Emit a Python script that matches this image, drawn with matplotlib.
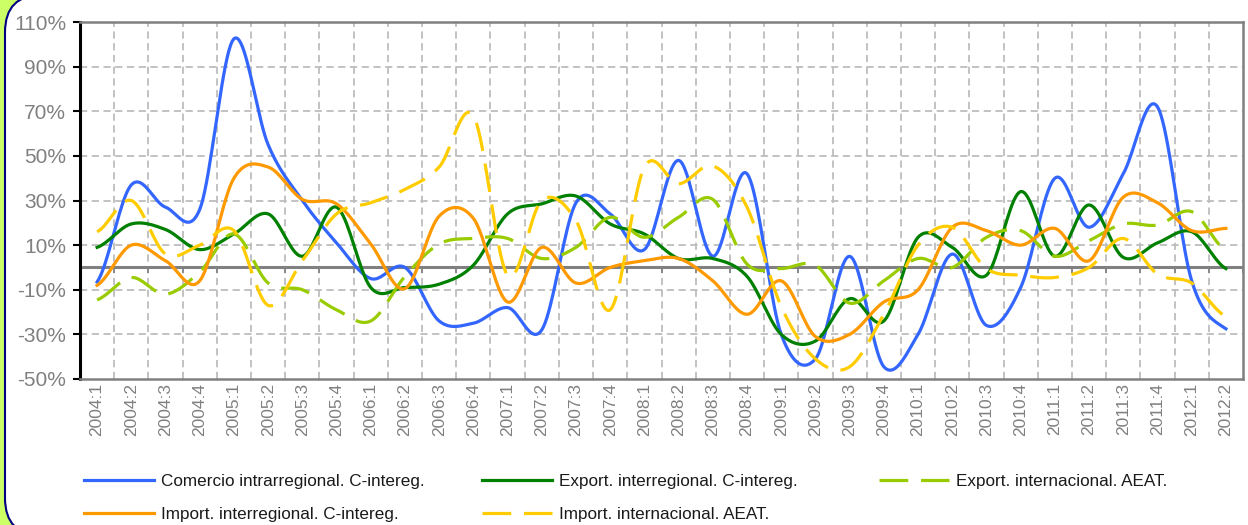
import numpy as np
import matplotlib
matplotlib.use("Agg")
from matplotlib import pyplot as plt
from matplotlib.patches import FancyBboxPatch

plt.rcParams['font.family'] = ['Liberation Sans', 'DejaVu Sans']

quarters = ["2004:1", "2004:2", "2004:3", "2004:4", "2005:1", "2005:2", "2005:3", "2005:4",
            "2006:1", "2006:2", "2006:3", "2006:4", "2007:1", "2007:2", "2007:3", "2007:4",
            "2008:1", "2008:2", "2008:3", "2008:4", "2009:1", "2009:2", "2009:3", "2009:4",
            "2010:1", "2010:2", "2010:3", "2010:4", "2011:1", "2011:2", "2011:3", "2011:4",
            "2012:1", "2012:2"]

comercio_intra = [-6.5, 37, 27, 26, 102.5, 55, 30, 11, -5, 0,
                  -24, -25, -18, -28, 29, 24, 8, 48, 5, 42,
                  -30, -41, 5, -44.5, -30, 6, -26, -9, 40, 18,
                  42, 72, -6, -27.5]
export_inter = [9, 19.5, 17, 8, 15, 24, 5, 27, -9, -9,
                -7.5, 1, 24, 28.5, 32, 19.5, 15, 4, 4, -4,
                -30, -33, -14, -24, 13.5, 9, -3.5, 34, 5, 28,
                4.5, 11, 16, -0.5]
export_intl = [-14.5, -4.5, -12, -2, 15, -7, -10, -19, -24, -4,
               10.5, 13, 13, 4, 9, 22.5, 13.5, 22.5, 30.5, 1.5,
               -0.5, 1, -16, -6, 4, 0, 13.5, 16.5, 5, 12,
               19.5, 19, 25, 7.5]
import_inter = [-8, 10, 3, -6, 40, 45, 30.5, 28.5, 10.5, -9.5,
                23, 22, -15.5, 9, -7, 0, 3, 4, -6, -21,
                -6, -31, -30, -15.5, -10, 18, 16.5, 10, 17.5, 3,
                31.5, 29, 16.5, 17.5]
import_intl = [16, 30, 6, 10, 16.5, -17, 3, 24, 29, 35,
               45, 68, -3.5, 30, 21, -19, 45, 37.5, 45.5, 27,
               -17.5, -41, -44.5, -21, 10, 18, -0.5, -3.5, -4.5, 0,
               13, -3, -7, -22]

series = [
    ("Comercio intrarregional. C-intereg.", comercio_intra, "#3366ff", False),
    ("Export. interregional. C-intereg.", export_inter, "#008000", False),
    ("Export. internacional. AEAT.", export_intl, "#99cc00", True),
    ("Import. interregional. C-intereg.", import_inter, "#ff9900", False),
    ("Import. internacional. AEAT.", import_intl, "#ffcc00", True),
]


def smooth(y, steps=20):
    # Catmull-Rom style smoothing similar to Excel "smoothed line"
    y = np.asarray(y, dtype=float)
    p = np.concatenate([[y[0]], y, [y[-1]]])
    xs, ys = [], []
    t = np.linspace(0, 1, steps, endpoint=False)
    for i in range(len(y) - 1):
        p0, p1, p2, p3 = p[i], p[i + 1], p[i + 2], p[i + 3]
        c1 = p1 + (p2 - p0) / 6
        c2 = p2 - (p3 - p1) / 6
        b = (1 - t) ** 3 * p1 + 3 * (1 - t) ** 2 * t * c1 + 3 * (1 - t) * t ** 2 * c2 + t ** 3 * p2
        xs.append(i + t)
        ys.append(b)
    xs.append([len(y) - 1])
    ys.append([y[-1]])
    return np.concatenate(xs), np.concatenate(ys)


fig = plt.figure(figsize=(12.48, 5.25), dpi=100)
fig.patch.set_facecolor("#ccff66")
frame = FancyBboxPatch((5 / 1248, -0.02), 1.05, 1.03, boxstyle="round,pad=0,rounding_size=0.03",
                       transform=fig.transFigure, facecolor="white", edgecolor="#000080",
                       linewidth=1.5, mutation_aspect=1248 / 525, zorder=-10)
fig.patches.append(frame)

ax = fig.add_axes([80 / 1248, 1 - 379 / 525, 1163 / 1248, 357 / 525])
ax.set_facecolor("white")

n = len(quarters)
for b in np.arange(0.5, n - 0.5, 1):
    ax.axvline(b, color="#bdbdbd", linewidth=1.3, linestyle=(0, (4, 2.5)), zorder=1)
for v in range(-30, 110, 20):
    ax.axhline(v, color="#bdbdbd", linewidth=1.3, linestyle=(0, (4, 2.5)), zorder=1)
ax.axhline(0, color="#808080", linewidth=2.2, zorder=2)
ax.plot(np.arange(-0.5, n, 1), np.zeros(n + 1), ls="none", marker=3, ms=4,
        mew=1.2, color="#808080", zorder=2)

handles = []
for name, vals, col, dashed in series:
    xs, ys = smooth(vals)
    if dashed:
        ln, = ax.plot(xs, ys, color=col, linewidth=2.3, dashes=(9, 4), label=name, zorder=3)
    else:
        ln, = ax.plot(xs, ys, color=col, linewidth=2.3, label=name, zorder=3)
    handles.append(ln)

ax.set_xlim(-0.5, n - 0.5)
ax.set_ylim(-50, 110)
ax.set_yticks(range(-50, 111, 20))
ax.set_yticklabels([f"{v}%" for v in range(-50, 111, 20)], color="#808080", fontsize=15)
ax.set_xticks(range(n))
ax.set_xticklabels(quarters, rotation=90, color="#808080", fontsize=12.5)
ax.tick_params(axis="x", length=0, pad=3)
ax.tick_params(axis="y", length=5, width=1.5, color="black", direction="out", pad=5)
ax.grid(False)

for side in ["top", "right", "bottom"]:
    ax.spines[side].set_color("#808080")
    ax.spines[side].set_linewidth(1.8)
ax.spines["left"].set_color("black")
ax.spines["left"].set_linewidth(2.2)

# legend: three columns placed separately
columns = [([0, 3], 70), ([1, 4], 468), ([2], 865)]
for idx, xpix in columns:
    leg = fig.legend([handles[i] for i in idx], [series[i][0] for i in idx],
                     loc="upper left", bbox_to_anchor=(xpix / 1248, 1 - 460 / 525),
                     frameon=False, fontsize=12.3, handlelength=4.1, handletextpad=0.45,
                     labelspacing=1.05, borderpad=0.3)
    for t in leg.get_texts():
        t.set_color("#1a1a1a")

fig.savefig("out.png", dpi=100, facecolor=fig.get_facecolor())
